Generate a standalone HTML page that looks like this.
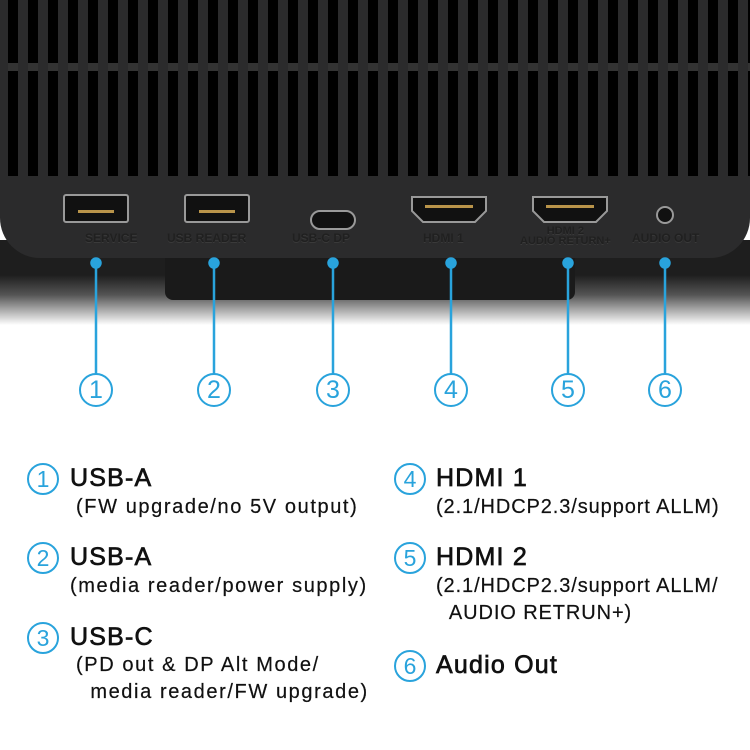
<!DOCTYPE html>
<html><head><style>
body{margin:0;width:750px;height:750px;overflow:hidden;background:#fff;position:relative;font-family:"Liberation Sans",sans-serif}
.a{position:absolute}
.c{position:absolute;border:2px solid #29a3dc;border-radius:50%;color:#29a3dc;text-align:center;box-sizing:border-box}
.t{position:absolute;color:#111;font-size:25px;font-weight:normal;-webkit-text-stroke:0.7px #111;letter-spacing:1.2px;white-space:nowrap}
.s{position:absolute;color:#111;font-size:20px;letter-spacing:1.6px;white-space:nowrap;line-height:27px;-webkit-text-stroke:0.2px #111}
.r{letter-spacing:0.9px}
.lab{position:absolute;color:#202020;font-size:12px;font-weight:bold;text-shadow:0 1px 0 #3a3a3a;white-space:nowrap;text-align:center;line-height:12px}
</style></head><body>
<div class="a" style="left:0;top:240px;width:750px;height:85px;background:linear-gradient(#1e1e1e 0,#1e1e1e 35px,#555 55px,#fff 85px)"></div>
<div class="a" style="left:165px;top:250px;width:410px;height:50px;background:#1a1a1a;border-radius:0 0 8px 8px"></div>
<div class="a" style="left:0;top:0;width:750px;height:258px;background:#2b2b2c;border-radius:0 0 40px 40px"></div>
<div class="a" style="left:0;top:0;width:750px;height:176px;background:repeating-linear-gradient(90deg,#2b2b2c 0,#2b2b2c 8px,#000 8px,#000 18px,#2b2b2c 18px,#2b2b2c 20px)"></div>
<div class="a" style="left:0;top:63px;width:750px;height:8px;background:#333"></div>
<div class="a" style="left:0;top:0;width:750px;height:176px;background:repeating-linear-gradient(90deg,#2b2b2c 0,#2b2b2c 8px,transparent 8px,transparent 18px,#2b2b2c 18px,#2b2b2c 20px)"></div>
<svg class="a" style="left:0;top:0" width="750" height="420">
<g stroke="#999" stroke-width="2" fill="#111">
<rect x="64" y="195" width="64" height="27" rx="2"/>
<rect x="185" y="195" width="64" height="27" rx="2"/>
<rect x="311" y="211" width="44" height="18" rx="9"/>
<path d="M412 197h74v14l-11 11h-52l-11-11z"/>
<path d="M533 197h74v14l-11 11h-52l-11-11z"/>
<circle cx="665" cy="215" r="8"/>
</g>
<g fill="#b9944a"><rect x="78" y="210" width="36" height="3"/><rect x="199" y="210" width="36" height="3"/><rect x="425" y="205" width="48" height="3"/><rect x="546" y="205" width="48" height="3"/></g>
<g stroke="#29a3dc" stroke-width="2.5" fill="#29a3dc">
<line x1="96" y1="263" x2="96" y2="374"/><circle cx="96" cy="263" r="4.5"/>
<line x1="214" y1="263" x2="214" y2="374"/><circle cx="214" cy="263" r="4.5"/>
<line x1="333" y1="263" x2="333" y2="374"/><circle cx="333" cy="263" r="4.5"/>
<line x1="451" y1="263" x2="451" y2="374"/><circle cx="451" cy="263" r="4.5"/>
<line x1="568" y1="263" x2="568" y2="374"/><circle cx="568" cy="263" r="4.5"/>
<line x1="665" y1="263" x2="665" y2="374"/><circle cx="665" cy="263" r="4.5"/>
</g>
</svg>
<div class="lab" style="left:85px;top:232px">SERVICE</div>
<div class="lab" style="left:167px;top:232px">USB READER</div>
<div class="lab" style="left:292px;top:232px">USB-C DP</div>
<div class="lab" style="left:423px;top:232px">HDMI 1</div>
<div class="lab" style="left:520px;top:226px;font-size:11px;line-height:10px">HDMI 2<br>AUDIO RETURN+</div>
<div class="lab" style="left:632px;top:232px">AUDIO OUT</div>
<div class="c" style="left:79px;top:373px;width:34px;height:34px;font-size:25px;line-height:30px">1</div>
<div class="c" style="left:197px;top:373px;width:34px;height:34px;font-size:25px;line-height:30px">2</div>
<div class="c" style="left:316px;top:373px;width:34px;height:34px;font-size:25px;line-height:30px">3</div>
<div class="c" style="left:434px;top:373px;width:34px;height:34px;font-size:25px;line-height:30px">4</div>
<div class="c" style="left:551px;top:373px;width:34px;height:34px;font-size:25px;line-height:30px">5</div>
<div class="c" style="left:648px;top:373px;width:34px;height:34px;font-size:25px;line-height:30px">6</div>
<div class="c" style="left:27px;top:463px;width:32px;height:32px;font-size:23px;line-height:28px">1</div>
<div class="t" style="left:70px;top:464px">USB-A</div>
<div class="s" style="left:76px;top:494px">(FW upgrade/no 5V output)</div>
<div class="c" style="left:27px;top:542px;width:32px;height:32px;font-size:23px;line-height:28px">2</div>
<div class="t" style="left:70px;top:543px">USB-A</div>
<div class="s" style="left:70px;top:573px">(media reader/power supply)</div>
<div class="c" style="left:27px;top:622px;width:32px;height:32px;font-size:23px;line-height:28px">3</div>
<div class="t" style="left:70px;top:623px">USB-C</div>
<div class="s" style="left:76px;top:652px">(PD out &amp; DP Alt Mode/<br>&nbsp;&nbsp;media reader/FW upgrade)</div>
<div class="c" style="left:394px;top:463px;width:32px;height:32px;font-size:23px;line-height:28px">4</div>
<div class="t" style="left:436px;top:464px">HDMI 1</div>
<div class="s r" style="left:436px;top:494px">(2.1/HDCP2.3/support ALLM)</div>
<div class="c" style="left:394px;top:542px;width:32px;height:32px;font-size:23px;line-height:28px">5</div>
<div class="t" style="left:436px;top:543px">HDMI 2</div>
<div class="s r" style="left:436px;top:573px">(2.1/HDCP2.3/support ALLM/<br>&nbsp;&nbsp;AUDIO RETRUN+)</div>
<div class="c" style="left:394px;top:650px;width:32px;height:32px;font-size:23px;line-height:28px">6</div>
<div class="t" style="left:436px;top:651px">Audio Out</div>
</body></html>
